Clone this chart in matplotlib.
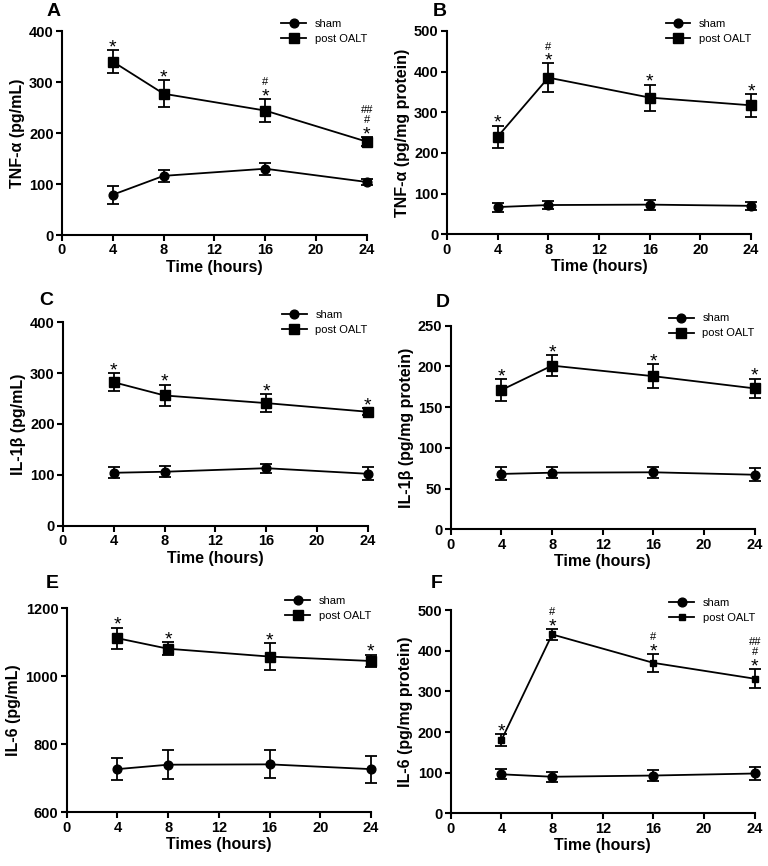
import numpy as np
from matplotlib import pyplot as plt
from matplotlib.lines import Line2D

plt.rcParams['font.family'] = ['Liberation Sans', 'DejaVu Sans']
plt.rcParams['font.weight'] = 'bold'

hours = [4, 8, 16, 24]

# A: TNF-alpha serum
tnf_serum_sham = [79, 116, 130, 104]
tnf_serum_sham_err = [18, 12, 12, 6]
tnf_serum_post = [340, 277, 244, 183]
tnf_serum_post_err = [22, 26, 22, 9]
tnf_serum_marks = [['*'], ['*'], ['*', '#'], ['*', '#', '##']]

# B: TNF-alpha tissue
tnf_tissue_sham = [67, 72, 73, 70]
tnf_tissue_sham_err = [11, 9, 12, 10]
tnf_tissue_post = [240, 385, 336, 317]
tnf_tissue_post_err = [27, 35, 32, 28]
tnf_tissue_marks = [['*'], ['*', '#'], ['*'], ['*']]

# C: IL-1beta serum
il1b_serum_sham = [104, 106, 113, 102]
il1b_serum_sham_err = [11, 11, 9, 13]
il1b_serum_post = [282, 256, 241, 224]
il1b_serum_post_err = [18, 21, 17, 7]
il1b_serum_marks = [['*'], ['*'], ['*'], ['*']]

# D: IL-1beta tissue
il1b_tissue_sham = [68, 69.5, 70, 67]
il1b_tissue_sham_err = [8, 7, 7, 8]
il1b_tissue_post = [171, 201, 188, 173]
il1b_tissue_post_err = [13, 12.5, 15, 12]
il1b_tissue_marks = [['*'], ['*'], ['*'], ['*']]

# E: IL-6 serum
il6_serum_sham = [727, 740, 741, 727]
il6_serum_sham_err = [32, 42, 41, 40]
il6_serum_post = [1112, 1081, 1058, 1045]
il6_serum_post_err = [31, 19, 40, 19]
il6_serum_marks = [['*'], ['*'], ['*'], ['*']]

# F: IL-6 tissue
il6_tissue_sham = [96, 90, 93, 98]
il6_tissue_sham_err = [12, 12, 14, 16]
il6_tissue_post = [180, 440, 370, 331]
il6_tissue_post_err = [14, 13, 22, 23]
il6_tissue_marks = [['*'], ['*', '#'], ['*', '#'], ['*', '#', '##']]

panels = [
    ('A', [0.0807, 0.7286, 0.397, 0.2356], (54, 12), tnf_serum_sham, tnf_serum_sham_err, tnf_serum_post,
     tnf_serum_post_err, tnf_serum_marks, (0, 400), [0, 100, 200, 300, 400], 'TNF-α (pg/mL)', 'Time (hours)'),
    ('B', [0.582, 0.7294, 0.396, 0.235], (440, 12), tnf_tissue_sham, tnf_tissue_sham_err, tnf_tissue_post,
     tnf_tissue_post_err, tnf_tissue_marks, (0, 500), [0, 100, 200, 300, 400, 500],
     'TNF-α (pg/mg protein)', 'Time (hours)'),
    ('C', [0.082, 0.393, 0.3967, 0.2349], (46, 301), il1b_serum_sham, il1b_serum_sham_err, il1b_serum_post,
     il1b_serum_post_err, il1b_serum_marks, (0, 400), [0, 100, 200, 300, 400], 'IL-1β (pg/mL)', 'Time (hours)'),
    ('D', [0.5869, 0.3888, 0.3958, 0.2351], (443, 302), il1b_tissue_sham, il1b_tissue_sham_err, il1b_tissue_post,
     il1b_tissue_post_err, il1b_tissue_marks, (0, 250), [0, 50, 100, 150, 200, 250],
     'IL-1β (pg/mg protein)', 'Time (hours)'),
    ('E', [0.0868, 0.062, 0.3962, 0.2356], (52, 583), il6_serum_sham, il6_serum_sham_err, il6_serum_post,
     il6_serum_post_err, il6_serum_marks, (600, 1200), [600, 800, 1000, 1200], 'IL-6 (pg/mL)', 'Times (hours)'),
    ('F', [0.5869, 0.0608, 0.396, 0.2348], (437, 583), il6_tissue_sham, il6_tissue_sham_err, il6_tissue_post,
     il6_tissue_post_err, il6_tissue_marks, (0, 500), [0, 100, 200, 300, 400, 500],
     'IL-6 (pg/mg protein)', 'Time (hours)'),
]

W, H = 768, 866
fig = plt.figure(figsize=(W / 100, H / 100), dpi=100)

for letter, rect, lpos, sham, sham_err, post, post_err, marks, ylim, yticks, ylabel, xlabel in panels:
    ax = fig.add_axes(rect)
    sq = 6.5 if letter != 'F' else 4.8
    kw = dict(color='black', lw=1.3, capsize=4, elinewidth=1.3, capthick=1.3, clip_on=False)
    ax.errorbar(hours, sham, yerr=sham_err, marker='o', ms=6.3, **kw)
    ax.errorbar(hours, post, yerr=post_err, marker='s', ms=sq, **kw)

    # significance marks stacked above the post OALT error bars
    for x, top, mk in zip(hours, np.array(post) + np.array(post_err), marks):
        for i, m in enumerate(mk):
            if m == '*':
                ax.annotate(m, (x, top), xytext=(0, -1.5), textcoords='offset points',
                            ha='center', va='baseline', fontsize=14, fontweight='normal')
            else:
                ax.annotate(m, (x, top), xytext=(0, 10 + 7.5 * (i - 1)), textcoords='offset points',
                            ha='center', va='baseline', fontsize=8, fontweight='normal')

    ax.set_xlim(0, 24)
    ax.set_xticks([0, 4, 8, 12, 16, 20, 24])
    ax.set_ylim(*ylim)
    ax.set_yticks(yticks)
    ax.spines['top'].set_visible(False)
    ax.spines['right'].set_visible(False)
    for s in ['left', 'bottom']:
        ax.spines[s].set_linewidth(1.5)
    ax.tick_params(width=1.5, length=4, labelsize=10.5, pad=2)
    ax.set_xlabel(xlabel, fontsize=11.5, fontweight='bold', labelpad=2)
    ax.set_ylabel(ylabel, fontsize=11.5, fontweight='bold', labelpad=3)

    handles = [Line2D([], [], color='black', lw=1.3, marker='o', ms=6.3),
               Line2D([], [], color='black', lw=1.3, marker='s', ms=sq)]
    ax.legend(handles, ['sham', 'post OALT'], loc='upper right', bbox_to_anchor=(1.0, 1.06),
              frameon=False, handlelength=2.2, handletextpad=0.8, borderpad=0, borderaxespad=0,
              labelspacing=0.45, prop={'size': 8, 'weight': 'normal'})
    fig.text(lpos[0] / W, 1 - lpos[1] / H, letter, fontsize=14, fontweight='bold',
             ha='center', va='center')

plt.savefig('out.png', dpi=100)
